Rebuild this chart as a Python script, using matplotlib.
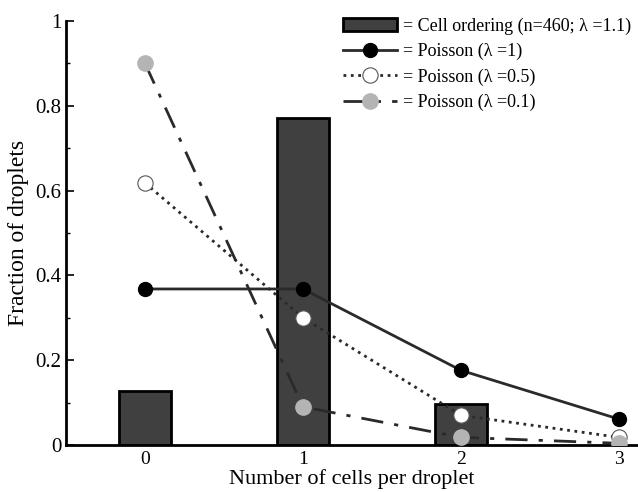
import matplotlib
matplotlib.use('Agg')
import matplotlib.pyplot as plt
from matplotlib.ticker import MultipleLocator

plt.rcParams['font.family'] = ['Liberation Serif', 'DejaVu Serif']

# data
cells = [0, 1, 2, 3]
bar_x = [0, 1, 2]
cell_ordering = [0.127, 0.771, 0.097]
poisson_1 = [0.368, 0.368, 0.176, 0.061]
poisson_05 = [0.618, 0.30, 0.07, 0.018]
poisson_01 = [0.90, 0.09, 0.018, 0.004]
yticks = [0, 0.2, 0.4, 0.6, 0.8, 1]
ytick_labels = ['0', '0.2', '0.4', '0.6', '0.8', '1']

fig = plt.figure(figsize=(6.38, 4.92), dpi=100)
ax = fig.add_axes([66 / 638, 1 - 445 / 492, 572 / 638, 424 / 492])

bars = ax.bar(bar_x, cell_ordering, width=0.33, color='#404040',
              edgecolor='black', linewidth=2, zorder=1,
              label='= Cell ordering (n=460; \u03bb =1.1)')
l1, = ax.plot(cells, poisson_1, color='#2a2a2a', linewidth=2, marker='o',
              markersize=10, markerfacecolor='black', markeredgecolor='black',
              zorder=3, label='= Poisson (\u03bb =1)')
l2, = ax.plot(cells, poisson_05, color='#2a2a2a', linewidth=2, linestyle=':',
              marker='o', markersize=11, markerfacecolor='white',
              markeredgecolor='#555555', markeredgewidth=0.8,
              zorder=3, label='= Poisson (\u03bb =0.5)')
l3, = ax.plot(cells, poisson_01, color='#2a2a2a', linewidth=2,
              linestyle=(0, (8, 4, 1.5, 4)), marker='o', markersize=11,
              markerfacecolor='#b4b4b4', markeredgecolor='#b4b4b4',
              zorder=3, label='= Poisson (\u03bb =0.1)')

ax.set_xlim(-0.5, 3.12)
ax.set_ylim(0, 1)
ax.set_xticks(cells)
ax.set_xticklabels(['0', '1', '2', '3'], fontsize=14)
ax.set_yticks(yticks)
ax.set_yticklabels(ytick_labels, fontsize=15)
ax.yaxis.set_minor_locator(MultipleLocator(0.1))
ax.tick_params(axis='x', length=0, pad=4)
ax.tick_params(axis='y', which='major', direction='in', length=6, width=1.2)
ax.tick_params(axis='y', which='minor', direction='in', length=3, width=1)
ax.spines['top'].set_visible(False)
ax.spines['right'].set_visible(False)
ax.spines['left'].set_linewidth(2)
ax.spines['bottom'].set_linewidth(2)

ax.set_xlabel('Number of cells per droplet', fontsize=16, labelpad=1)
ax.set_ylabel('Fraction of droplets', fontsize=17, labelpad=4)

ax.legend(handles=[bars, l1, l2, l3], loc='upper right',
          bbox_to_anchor=(1.0, 1.025), frameon=False,
          fontsize=13, handlelength=3, handletextpad=0.3, labelspacing=0.45,
          borderaxespad=0)

fig.savefig('out.png', dpi=100)
